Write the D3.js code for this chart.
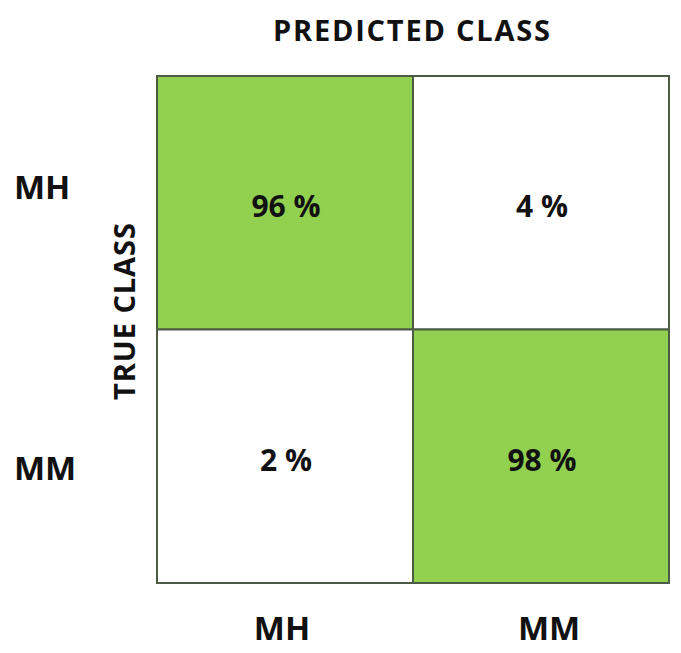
<!DOCTYPE html>
<html><head><meta charset="utf-8">
<script src="https://cdn.jsdelivr.net/npm/d3@7"></script>
<style>body{margin:0;background:#fff}</style>
</head><body>
<script>
const predicted = ["MH","MM"];
const actual = ["MH","MM"];
const values = [[96,4],[2,98]];
const W=681,H=653;
const svg=d3.select("body").append("svg").attr("width",W).attr("height",H);
const x=d3.scaleBand().domain(predicted).range([157,669]);
const y=d3.scaleBand().domain(actual).range([76,583]);
const rowLab=d3.scalePoint().domain(actual).range([186,467]);
const colLab=d3.scalePoint().domain(predicted).range([282,549]);
const font="'Open Sans', Calibri, sans-serif";
const cells=[];
actual.forEach((a,i)=>predicted.forEach((p,j)=>cells.push({a,p,v:values[i][j]})));
svg.selectAll("rect.c").data(cells).join("rect").attr("class","c")
 .attr("x",d=>x(d.p)).attr("y",d=>y(d.a)).attr("width",x.bandwidth()).attr("height",y.bandwidth())
 .attr("fill",d=>d.a===d.p?"#92d050":"#fff").attr("stroke","#4d5a45").attr("stroke-width",2);
svg.selectAll("text.v").data(cells).join("text").attr("class","v")
 .attr("x",d=>x(d.p)+x.bandwidth()/2+1).attr("y",d=>y(d.a)+y.bandwidth()/2+3)
 .attr("text-anchor","middle").attr("dominant-baseline","central")
 .attr("font-family",font).attr("font-weight",700).attr("font-size",30).attr("fill","#111")
 .text(d=>d.v+" %");
svg.selectAll("text.r").data(actual).join("text").attr("class","r")
 .attr("x",14).attr("y",d=>rowLab(d)).attr("dominant-baseline","central")
 .attr("font-family",font).attr("font-weight",700).attr("font-size",33).attr("fill","#111").text(d=>d);
svg.selectAll("text.b").data(predicted).join("text").attr("class","b")
 .attr("x",d=>colLab(d)).attr("y",627).attr("text-anchor","middle").attr("dominant-baseline","central")
 .attr("font-family",font).attr("font-weight",700).attr("font-size",33).attr("fill","#111").text(d=>d);
svg.append("text").attr("x",411.5).attr("y",29.5).attr("text-anchor","middle").attr("dominant-baseline","central")
 .attr("textLength",277).attr("lengthAdjust","spacing")
 .attr("font-family",font).attr("font-weight",700).attr("font-size",29).attr("fill","#111").text("PREDICTED CLASS");
svg.append("text").attr("transform","translate(123,311.5) rotate(-90)").attr("text-anchor","middle").attr("dominant-baseline","central")
 .attr("textLength",177).attr("lengthAdjust","spacing")
 .attr("font-family",font).attr("font-weight",700).attr("font-size",29).attr("fill","#111").text("TRUE CLASS");
</script>
</body></html>
